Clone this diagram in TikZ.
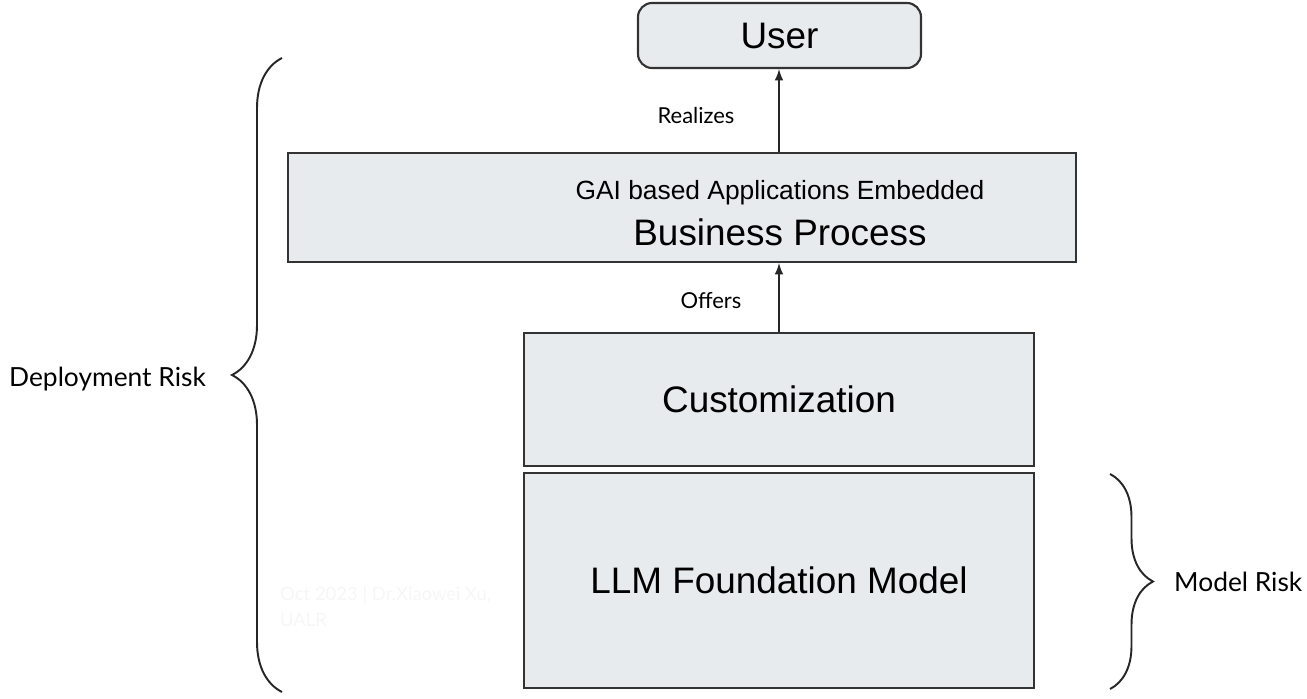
\documentclass[tikz,border=0pt]{standalone}
\usepackage{fontspec}
\setmainfont{Liberation Sans}
\newfontfamily\latofont{Lato}
\usetikzlibrary{arrows,shapes,positioning,decorations.pathreplacing}

\definecolor{boxfill}{HTML}{E8EBED}
\definecolor{boxline}{HTML}{333333}
\definecolor{faint}{HTML}{F6F6F6}

\begin{document}
\begin{tikzpicture}[x=0.02cm,y=-0.02cm]
\tikzset{layer/.style ={draw=boxline,fill=boxfill,line width=1.2pt,align=center,inner sep=0pt},
  big/.style ={font=\fontsize{21}{25}\selectfont},
  lbl/.style ={font=\latofont\fontsize{12.5}{15}\selectfont},
  side/.style ={font=\latofont\fontsize{15}{18}\selectfont},
  arr/.style ={-latex,line width=1.2pt,draw=black!85},
  curly/.style ={decorate,line width=1.1pt,draw=black!85}}
\useasboundingbox (0,0) rectangle (1307,699);
% the stack of layers
    \node[layer,big,rounded corners=8pt,minimum width=283*0.02cm,minimum height=65*0.02cm] (user) at (779.5,35.5) {User};
    \node[layer,minimum width=788*0.02cm,minimum height=109*0.02cm] (bizproc) at (682,207.5) {};
    \node[align=center] (biztext) at (780,213) {{\fontsize{15}{17}\selectfont GAI based Applications Embedded}\\[7pt]
      {\fontsize{21}{25}\selectfont Business Process}};
    \node[layer,big,minimum width=510*0.02cm,minimum height=133*0.02cm] (custom) at (779,399.5) {Customization};
    \node[layer,big,minimum width=510*0.02cm,minimum height=215*0.02cm] (llm) at (779,580.5) {LLM Foundation Model};
% arrows between layers
    \draw[arr] (custom.north) -- (custom.north |- bizproc.south);
    \draw[arr] (custom.north |- bizproc.north) -- (custom.north |- user.south);
    \node[lbl] (realizes) at (696,116) {Realizes};
    \node[lbl] (offers) at (711,301) {Offers};
% risk braces
    \coordinate (deptop) at (282,58);
    \coordinate (depbot) at (282,692);
    \draw[curly,decoration={brace,amplitude=1cm}] (depbot) -- (deptop);
    \node[side,anchor=east] (deprisk) at (212,379) {Deployment Risk};
    \coordinate (modtop) at (1110,474);
    \coordinate (modbot) at (1110,689);
    \draw[curly,decoration={brace,amplitude=0.86cm}] (modtop) -- (modbot);
    \node[side,anchor=west] (modrisk) at (1168,582) {Model Risk};
% footer
    \node[lbl,font=\latofont\fontsize{10.5}{15}\selectfont,text=faint,align=left,anchor=north west] (footer) at (274,580) {Oct 2023 | Dr.Xiaowei Xu,\\UALR};
\end{tikzpicture}
\end{document}
